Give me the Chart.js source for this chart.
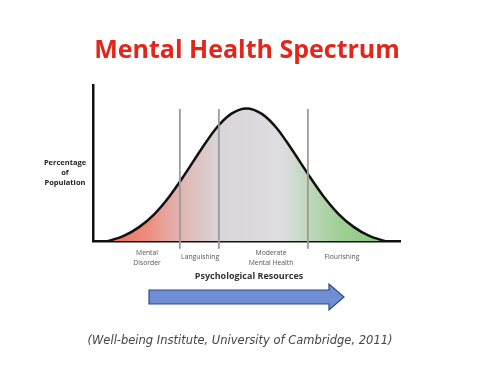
<!DOCTYPE html>
<html lang="en">
<head>
<meta charset="UTF-8">
<title>Mental Health Spectrum</title>
<script src="https://cdn.jsdelivr.net/npm/chart.js"></script>
<style>
    body { margin: 0; background: #fff; }
    #wrap { width: 494px; height: 371px; }
</style>
</head>
<body>
<div id="wrap"><canvas id="chart"></canvas></div>
<script>
// bell curve (x: 0..10 along the axis, y: % of axis height)
const curveX = [0.5, 1, 1.5, 2, 2.5, 3, 3.5, 4, 4.5, 5, 5.5, 6, 6.5, 7, 7.5, 8, 8.5, 9, 9.5];
const curveY = [0, 3.3, 8.9, 17.3, 28.9, 43, 58, 72, 81.5, 85, 81.5, 72, 58, 43, 28.9, 17.3, 8.9, 3.3, 0];

// grey dividers between the zones
const dividerX = [2.83, 4.1, 7.0];
const dividerTop = 84.6;
const dividerBottom = -5;

// zone names under the axis
const zoneLabels = [["Mental", "Disorder"], ["Languishing"], ["Moderate", "Mental Health"], ["Flourishing"]];
const zoneCenters = [1.76, 3.49, 5.8, 8.11];

const titleText = "Mental Health Spectrum";
const yTitle = ["Percentage", "of", "Population"];
const xTitle = "Psychological Resources";
const sourceText = "(Well-being Institute, University of Cambridge, 2011)";

function areaFill(context) {
    const chart = context.chart;
    const area = chart.chartArea;
    if (!area) return "#ddd";
    const g = chart.ctx.createLinearGradient(area.left, 0, area.right, 0);
    g.addColorStop(0.04, "rgb(238,108,88)");
    g.addColorStop(0.18, "rgb(236,142,125)");
    g.addColorStop(0.28, "rgb(224,180,176)");
    g.addColorStop(0.41, "rgb(218,213,217)");
    g.addColorStop(0.62, "rgb(221,221,224)");
    g.addColorStop(0.70, "rgb(192,215,188)");
    g.addColorStop(0.80, "rgb(160,208,150)");
    g.addColorStop(0.96, "rgb(136,198,124)");
    return g;
}

const datasets = [];
dividerX.forEach(x => {
    datasets.push({
        data: [{ x: x, y: dividerTop }, { x: x, y: dividerBottom }],
        borderColor: "#9b9b9b",
        borderWidth: 1.8,
        pointRadius: 0,
        clip: false,
        order: 0
    });
});
datasets.push({
    data: curveX.map((x, i) => ({ x: x, y: curveY[i] })),
    borderColor: "#111",
    borderWidth: 2.5,
    backgroundColor: areaFill,
    fill: "origin",
    cubicInterpolationMode: "monotone",
    pointRadius: 0,
    order: 1
});

// texts and the arrow around the plot
const decorations = {
    id: "decorations",
    afterDraw(chart) {
        const ctx = chart.ctx;
        const xs = chart.scales.x;
        const area = chart.chartArea;
        ctx.save();
        ctx.textAlign = "center";
        ctx.textBaseline = "middle";

        ctx.fillStyle = "#e3261c";
        ctx.font = "bold 25px 'Open Sans', sans-serif";
        ctx.fillText(titleText, 247, 51);

        ctx.fillStyle = "#222";
        ctx.font = "bold 7.5px 'Open Sans', sans-serif";
        yTitle.forEach((t, i) => ctx.fillText(t, 65, 163 + i * 10));

        ctx.fillStyle = "#555";
        ctx.font = "6.8px 'Open Sans', sans-serif";
        zoneLabels.forEach((lines, i) => {
            const cx = xs.getPixelForValue(zoneCenters[i]);
            const y0 = lines.length > 1 ? area.bottom + 12 : area.bottom + 16;
            lines.forEach((t, j) => ctx.fillText(t, cx, y0 + j * 10));
        });

        ctx.fillStyle = "#333";
        ctx.font = "bold 9px 'Open Sans', sans-serif";
        ctx.fillText(xTitle, 249, 276);

        // arrow
        ctx.beginPath();
        ctx.moveTo(149, 290);
        ctx.lineTo(329, 290);
        ctx.lineTo(329, 284);
        ctx.lineTo(344, 297);
        ctx.lineTo(329, 310);
        ctx.lineTo(329, 304);
        ctx.lineTo(149, 304);
        ctx.closePath();
        ctx.fillStyle = "#6f8ed4";
        ctx.fill();
        ctx.strokeStyle = "#2c4a85";
        ctx.lineWidth = 1.2;
        ctx.stroke();

        ctx.fillStyle = "#444";
        ctx.font = "oblique 11.5px 'DejaVu Sans', sans-serif";
        ctx.fillText(sourceText, 240, 341);
        ctx.restore();
    }
};

new Chart(document.getElementById("chart"), {
    type: "line",
    data: { datasets: datasets },
    options: {
        responsive: true,
        maintainAspectRatio: false,
        animation: false,
        layout: { padding: { left: 93, top: 85, right: 94, bottom: 130 } },
        plugins: {
            legend: { display: false },
            tooltip: { enabled: false },
            title: { display: false }
        },
        scales: {
            x: {
                type: "linear", min: 0, max: 10,
                grid: { display: false, drawTicks: false },
                ticks: { display: false },
                border: { color: "#111", width: 2.5 }
            },
            y: {
                min: 0, max: 100,
                grid: { display: false, drawTicks: false },
                ticks: { display: false },
                border: { color: "#111", width: 2.5 }
            }
        }
    },
    plugins: [decorations]
});
</script>
</body>
</html>
